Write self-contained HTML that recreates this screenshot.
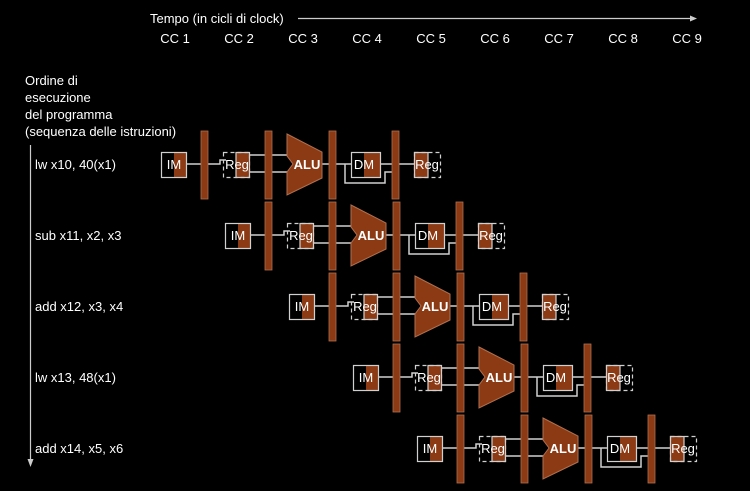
<!DOCTYPE html>
<html><head><meta charset="utf-8"><style>
html,body{margin:0;padding:0;background:#000;}
svg{display:block;font-family:"Liberation Sans",sans-serif;}
</style></head><body>
<svg id="chart" width="750" height="491" viewBox="0 0 750 491">
<rect width="750" height="491" fill="#000"/>
<text x="150" y="23" fill="#fff" font-size="13">Tempo (in cicli di clock)</text>
<line x1="298" y1="18.5" x2="690" y2="18.5" stroke="#ccc" stroke-width="1.2"/>
<polygon points="690,15.5 697,18.5 690,21.5" fill="#ccc"/>
<g id="cc"></g>
<text fill="#fff" font-size="13">
<tspan x="25" y="85">Ordine di</tspan><tspan x="25" y="102">esecuzione</tspan><tspan x="25" y="119">del programma</tspan><tspan x="25" y="136">(sequenza delle istruzioni)</tspan></text>
<line x1="30.5" y1="145" x2="30.5" y2="460" stroke="#ccc" stroke-width="1.2"/>
<polygon points="27.5,459 33.5,459 30.5,467" fill="#ccc"/>
<g id="rows"></g>
</svg>
<script>
const cycles = ["CC 1","CC 2","CC 3","CC 4","CC 5","CC 6","CC 7","CC 8","CC 9"];
const instructions = ["lw x10, 40(x1)","sub x11, x2, x3","add x12, x3, x4","lw x13, 48(x1)","add x14, x5, x6"];
const startCycle = [0,1,2,3,4];
const NS="http://www.w3.org/2000/svg";
const OR="#8b3a14", LN="#d0d0d0";
const DX=64, DY=71;
function mk(t,a,p){const e=document.createElementNS(NS,t);for(const k in a)e.setAttribute(k,a[k]);p.appendChild(e);return e;}
const cc=document.getElementById('cc');
cycles.forEach((c,i)=>{
  const t=mk('text',{x:175+i*DX,y:43,fill:'#fff','font-size':13,'text-anchor':'middle'},cc);
  
  
  t.textContent=c;
});
const rows=document.getElementById('rows');
instructions.forEach((ins,r)=>{
  const ox=startCycle[r]*DX, y=164+r*DY;
  const g=mk('g',{transform:`translate(${ox},${r*DY})`},rows);
  
  
  const lab=mk('text',{x:35,y:y+5,fill:'#fff','font-size':13},rows);
  
  
  lab.textContent=ins;
  const L=(pts)=>mk('polyline',{points:pts,fill:'none',stroke:LN,'stroke-width':1.5},g);
  L("187,164 201,164");
  L("208,164 220,164 220,160 226,160");
  L("250,155 265,155"); L("250,172 265,172");
  L("272,155 291,155"); L("272,172 291,172");
  L("322,164 329,164");
  L("336,164 351,164");
  L("345,164 345,183 385,183 385,172 392,172");
  L("381,164 392,164");
  L("399,164 414,164");
  const im=mk('g',{},g);
  mk('rect',{x:174,y:152,width:13,height:26,fill:OR},im);
  mk('rect',{x:161.5,y:152.5,width:25,height:25,fill:'none',stroke:LN,'stroke-width':1.2},im);
  mk('text',{x:174,y:169,fill:'#fff','font-size':13,'text-anchor':'middle'},im).textContent='IM';
  const rg=mk('g',{},g);
  mk('rect',{x:236,y:152,width:14,height:26,fill:OR},rg);
  mk('rect',{x:223.5,y:152.5,width:26,height:25,fill:'none',stroke:LN,'stroke-width':1.2,'stroke-dasharray':'4,3'},rg);
  mk('rect',{x:236,y:152.5,width:13.5,height:25,fill:'none',stroke:LN,'stroke-width':1.2},rg);
  mk('text',{x:237,y:169,fill:'#fff','font-size':13,'text-anchor':'middle'},rg).textContent='Reg';
  const al=mk('g',{},g);
  mk('polygon',{points:"287,134 322,152 322,178 287,195 287,172 293,164 287,156",fill:OR,stroke:'#b0704f','stroke-width':1},al);
  mk('text',{x:307,y:169,fill:'#fff','font-size':13,'font-weight':'bold','text-anchor':'middle'},al).textContent='ALU';
  const dm=mk('g',{},g);
  mk('rect',{x:364,y:152,width:17,height:26,fill:OR},dm);
  mk('rect',{x:351.5,y:152.5,width:29,height:25,fill:'none',stroke:LN,'stroke-width':1.2},dm);
  mk('text',{x:364,y:169,fill:'#fff','font-size':13,'text-anchor':'middle'},dm).textContent='DM';
  const rw=mk('g',{},g);
  mk('rect',{x:414,y:152,width:14,height:26,fill:OR},rw);
  mk('rect',{x:414.5,y:152.5,width:26,height:25,fill:'none',stroke:LN,'stroke-width':1.2,'stroke-dasharray':'4,3'},rw);
  mk('rect',{x:414.5,y:152.5,width:13.5,height:25,fill:'none',stroke:LN,'stroke-width':1.2},rw);
  mk('text',{x:427,y:169,fill:'#fff','font-size':13,'text-anchor':'middle'},rw).textContent='Reg';
  [201,265,329,392].forEach((bx,k)=>{
    const b=mk('rect',{x:bx,y:131,width:7,height:68,fill:OR,stroke:'#b0704f','stroke-width':0.8},g);
    
    
  });
});
</script>
</body></html>
